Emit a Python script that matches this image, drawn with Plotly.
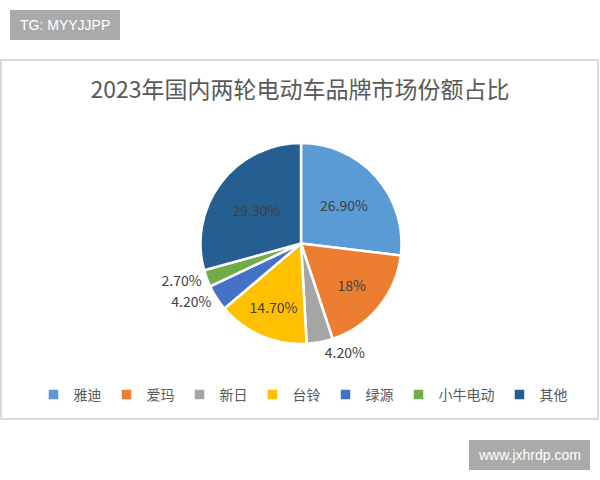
import plotly.graph_objects as go

brands = ["雅迪", "爱玛", "新日", "台铃", "绿源", "小牛电动", "其他"]
shares = [26.9, 18.0, 4.2, 14.7, 4.2, 2.7, 29.3]
share_labels = ["26.90%", "18%", "4.20%", "14.70%", "4.20%", "2.70%", "29.30%"]
colors = ["#5B9BD5", "#ED7D31", "#A5A5A5", "#FFC000", "#4472C4", "#70AD47", "#255E91"]
positions = ["inside", "inside", "outside", "inside", "outside", "outside", "inside"]

FONT = "Noto Sans CJK SC, Noto Sans, sans-serif"
W, H = 600, 480

fig = go.Figure(go.Pie(
    labels=brands,
    values=shares,
    text=share_labels,
    textinfo="text",
    textposition=positions,
    insidetextorientation="horizontal",
    sort=False,
    direction="clockwise",
    rotation=0,
    marker=dict(colors=colors, line=dict(color="white", width=2.5)),
    textfont=dict(family=FONT, size=14, color="#404040"),
    domain=dict(x=[200 / W, 402 / W], y=[(H - 344) / H, (H - 143) / H]),
    hoverinfo="label+percent",
))

fig.update_layout(
    width=W, height=H,
    margin=dict(l=0, r=0, t=0, b=0),
    paper_bgcolor="white",
    plot_bgcolor="white",
    font=dict(family=FONT, color="#595959"),
    title=dict(text="2023年国内两轮电动车品牌市场份额占比",
               x=0.5, xanchor="center", y=(H - 90) / H, yanchor="middle",
               font=dict(family=FONT, size=23, color="#595959")),
    showlegend=True,
    legend=dict(orientation="h", x=0.505, xanchor="center", y=(H - 395) / H, yanchor="middle",
                font=dict(family=FONT, size=14, color="#595959"),
                itemwidth=30, traceorder="normal", bgcolor="rgba(0,0,0,0)"),
    shapes=[
        dict(type="rect", xref="paper", yref="paper",
             x0=1 / W, x1=(W - 2) / W, y0=(H - 419) / H, y1=(H - 60) / H,
             line=dict(color="#D9D9D9", width=2), fillcolor="rgba(0,0,0,0)", layer="below"),
        dict(type="rect", xref="paper", yref="paper",
             x0=10 / W, x1=120 / W, y0=(H - 40) / H, y1=(H - 10) / H,
             line=dict(width=0), fillcolor="#AAAAAA"),
        dict(type="rect", xref="paper", yref="paper",
             x0=469 / W, x1=590 / W, y0=(H - 470) / H, y1=(H - 440) / H,
             line=dict(width=0), fillcolor="#AAAAAA"),
    ],
    annotations=[
        dict(text="TG: MYYJJPP", xref="paper", yref="paper", x=65 / W, y=(H - 25) / H,
             xanchor="center", yanchor="middle", showarrow=False,
             font=dict(family="Liberation Sans, Arial, sans-serif", size=14, color="white")),
        dict(text="www.jxhrdp.com", xref="paper", yref="paper", x=529.5 / W, y=(H - 455) / H,
             xanchor="center", yanchor="middle", showarrow=False,
             font=dict(family="Liberation Sans, Arial, sans-serif", size=14, color="white")),
    ],
)

fig.write_html("out.html",
               config={"displayModeBar": False},
               post_script="document.body.style.margin='0';document.body.style.overflow='hidden';")
